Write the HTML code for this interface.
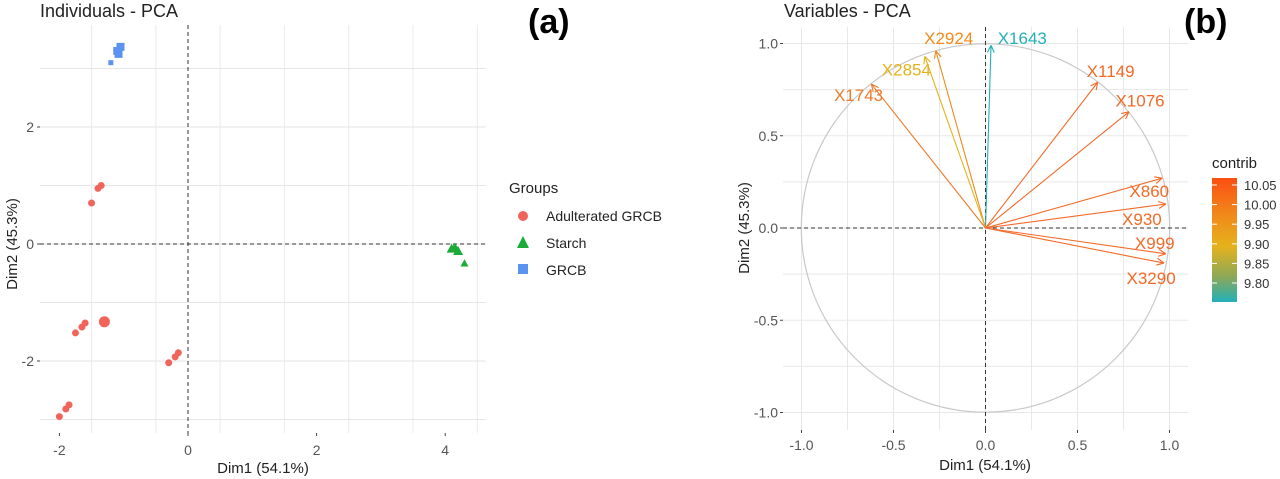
<!DOCTYPE html>
<html><head><meta charset="utf-8"><style>
body{margin:0;background:#fff;}
svg{display:block;font-family:"Liberation Sans",sans-serif;}
</style></head><body>
<svg id="s" width="1280" height="479" xmlns="http://www.w3.org/2000/svg">
<text x="40" y="17" font-size="18" fill="#222">Individuals - PCA</text>
<text x="528" y="33" font-size="34" font-weight="bold" fill="#000">(a)</text>
<text x="784" y="17" font-size="18" fill="#222">Variables - PCA</text>
<text x="1184" y="33" font-size="34" font-weight="bold" fill="#000">(b)</text>
<g id="ga"></g>
<g id="gb"></g>
</svg>
<script>
const NS="http://www.w3.org/2000/svg";
// Panel a data
const grcbX=[-1.05,-1.1,-1.08,-1.2];
const grcbY=[3.37,3.3,3.25,3.1];
const adultX=[-1.35,-1.4,-1.5,-1.3,-1.6,-1.65,-1.75,-0.15,-0.2,-0.3,-1.85,-1.9,-2.0];
const adultY=[1.0,0.95,0.7,-1.33,-1.35,-1.42,-1.52,-1.86,-1.93,-2.03,-2.75,-2.82,-2.95];
const starchX=[4.1,4.15,4.2,4.3];
const starchY=[-0.08,-0.06,-0.12,-0.33];
const aXTicks=[-2,0,2,4];
const aYTicks=[-2,0,2];
// Panel b data
const varNames=["X1643","X2924","X2854","X1743","X1149","X1076","X860","X930","X999","X3290"];
const varX=[0.03,-0.27,-0.33,-0.62,0.61,0.78,0.96,0.98,0.98,0.97];
const varY=[0.99,0.96,0.93,0.78,0.79,0.63,0.27,0.13,-0.14,-0.19];
const varColor=["#22b0b8","#f08a1a","#e6b21c","#ee7a2a","#f26a28","#f26a28","#f26a28","#f26a28","#f26a28","#f26a28"];
const labX=[0.2,-0.2,-0.43,-0.69,0.68,0.84,0.89,0.85,0.92,0.9];
const labY=[1.03,1.03,0.86,0.72,0.85,0.69,0.2,0.05,-0.08,-0.27];
const bTicks=[-1.0,-0.5,0.0,0.5,1.0];
const cbLabels=["10.05","10.00","9.95","9.90","9.85","9.80"];

function el(p,t,a){const e=document.createElementNS(NS,t);for(const k in a)e.setAttribute(k,a[k]);p.appendChild(e);return e;}
// Panel a
const ga=document.getElementById('ga');
const ax=v=>188+v*64.3, ay=v=>244-v*58.5;
const A={x0:40,x1:486,y0:25,y1:433};
for(let v=-2.5;v<=4.5;v+=1){const x=ax(v);if(x<A.x0||x>A.x1)continue;el(ga,'line',{x1:x,x2:x,y1:A.y0,y2:A.y1,stroke:'#ececec','stroke-width':1});}
for(let v=-3;v<=3;v+=1){const y=ay(v);if(y<A.y0||y>A.y1)continue;el(ga,'line',{x1:A.x0,x2:A.x1,y1:y,y2:y,stroke:'#e6e6e6','stroke-width':1});}
aXTicks.forEach(v=>{el(ga,'line',{x1:ax(v),x2:ax(v),y1:A.y1,y2:A.y1+3,stroke:'#444'});const t=el(ga,'text',{x:ax(v),y:455,'font-size':14,fill:'#555','text-anchor':'middle'});t.textContent=v;});
aYTicks.forEach(v=>{el(ga,'line',{x1:A.x0-3,x2:A.x0,y1:ay(v),y2:ay(v),stroke:'#444'});const t=el(ga,'text',{x:A.x0-6,y:ay(v)+5,'font-size':14,fill:'#555','text-anchor':'end'});t.textContent=v;});
el(ga,'line',{x1:ax(0),x2:ax(0),y1:A.y0,y2:A.y1,stroke:'#333','stroke-dasharray':'4,3'});
el(ga,'line',{x1:A.x0,x2:A.x1,y1:ay(0),y2:ay(0),stroke:'#333','stroke-dasharray':'4,3'});
let t=el(ga,'text',{x:263,y:473,'font-size':15,fill:'#222','text-anchor':'middle'});t.textContent='Dim1 (54.1%)';
t=el(ga,'text',{x:0,y:0,'font-size':15,fill:'#222','text-anchor':'middle',transform:'translate(17,244) rotate(-90)'});t.textContent='Dim2 (45.3%)';
adultX.forEach((v,i)=>{const r=i===3?5.5:3.5;const p=el(ga,'circle',{cx:ax(v),cy:ay(adultY[i]),r:r,fill:'#f0645c'});

});
starchX.forEach((v,i)=>{const x=ax(v),y=ay(starchY[i]),s=i===3?4:5;const p=el(ga,'polygon',{points:`${x},${y-s} ${x-s},${y+s*0.8} ${x+s},${y+s*0.8}`,fill:'#1aab38'});

});
grcbX.forEach((v,i)=>{const s=i===3?5:8;const p=el(ga,'rect',{x:ax(v)-s/2,y:ay(grcbY[i])-s/2,width:s,height:s,fill:'#5b93f0'});

});
// legend a
const lg=el(ga,'g',{});


t=el(lg,'text',{x:509,y:193,'font-size':15,fill:'#222'});t.textContent='Groups';
el(lg,'circle',{cx:523,cy:216,r:5,fill:'#f0645c'});
el(lg,'polygon',{points:'523,236 517,248 529,248',fill:'#1aab38'});
el(lg,'rect',{x:518,y:264,width:10,height:10,fill:'#5b93f0'});
[['Adulterated GRCB',221],['Starch',248],['GRCB',275]].forEach(([s,y])=>{const e=el(lg,'text',{x:546,y:y,'font-size':14,fill:'#222'});e.textContent=s;});
// Panel b
const gb=document.getElementById('gb');
const bx=v=>985.5+v*184, by=v=>228-v*184.5;
const B={x0:783,x1:1188,y0:27,y1:430};
for(let v=-1.25;v<=1.1;v+=0.25){const x=bx(v);if(x<B.x0||x>B.x1)continue;el(gb,'line',{x1:x,x2:x,y1:B.y0,y2:B.y1,stroke:'#e8e8e8'});}
for(let v=-1;v<=1.1;v+=0.25){const y=by(v);el(gb,'line',{x1:B.x0,x2:B.x1,y1:y,y2:y,stroke:'#e8e8e8'});}
bTicks.forEach(v=>{el(gb,'line',{x1:bx(v),x2:bx(v),y1:B.y1,y2:B.y1+3,stroke:'#444'});let e=el(gb,'text',{x:bx(v),y:450,'font-size':14,fill:'#555','text-anchor':'middle'});e.textContent=v.toFixed(1);
el(gb,'line',{x1:B.x0-3,x2:B.x0,y1:by(v),y2:by(v),stroke:'#444'});e=el(gb,'text',{x:B.x0-5,y:by(v)+5,'font-size':14,fill:'#555','text-anchor':'end'});e.textContent=v.toFixed(1);});
el(gb,'circle',{cx:bx(0),cy:by(0),r:184.2,fill:'none',stroke:'#c8c8c8','stroke-width':1.2});
el(gb,'line',{x1:bx(0),x2:bx(0),y1:B.y0,y2:B.y1,stroke:'#333','stroke-dasharray':'4,3'});
el(gb,'line',{x1:B.x0,x2:B.x1,y1:by(0),y2:by(0),stroke:'#333','stroke-dasharray':'4,3'});
t=el(gb,'text',{x:985,y:470,'font-size':15,fill:'#222','text-anchor':'middle'});t.textContent='Dim1 (54.1%)';
t=el(gb,'text',{x:0,y:0,'font-size':15,fill:'#222','text-anchor':'middle',transform:'translate(749,228) rotate(-90)'});t.textContent='Dim2 (45.3%)';
varNames.forEach((n,i)=>{const x0=bx(0),y0=by(0),x1=bx(varX[i]),y1=by(varY[i]),c=varColor[i];
const g=el(gb,'g',{});


el(g,'line',{x1:x0,y1:y0,x2:x1,y2:y1,stroke:c,'stroke-width':1.1});
const a=Math.atan2(y1-y0,x1-x0),L=8;
[0.45,-0.45].forEach(d=>el(g,'line',{x1:x1,y1:y1,x2:x1-L*Math.cos(a+d),y2:y1-L*Math.sin(a+d),stroke:c,'stroke-width':1.1}));
const e=el(g,'text',{x:bx(labX[i]),y:by(labY[i])+6,'font-size':17,fill:c,'text-anchor':'middle'});e.textContent=n;});
// colorbar
const cb=el(gb,'g',{});


const d=el(cb,'defs',{});const lgd=el(d,'linearGradient',{id:'cg',x1:0,y1:0,x2:0,y2:1});
[['0','#fc4e12'],['0.3','#f08a1a'],['0.55','#e6b21c'],['0.8','#8aa85a'],['1','#22b0b8']].forEach(([o,c])=>el(lgd,'stop',{offset:o,'stop-color':c}));
t=el(cb,'text',{x:1212,y:168,'font-size':15,fill:'#222'});t.textContent='contrib';
el(cb,'rect',{x:1212,y:178,width:25,height:124,fill:'url(#cg)'});
cbLabels.forEach((s,i)=>{const y=185+i*19.6;el(cb,'line',{x1:1212,x2:1217,y1:y,y2:y,stroke:'#fff'});el(cb,'line',{x1:1232,x2:1237,y1:y,y2:y,stroke:'#fff'});const e=el(cb,'text',{x:1244,y:y+5,'font-size':13,fill:'#333'});e.textContent=s;});
</script>
</body></html>
